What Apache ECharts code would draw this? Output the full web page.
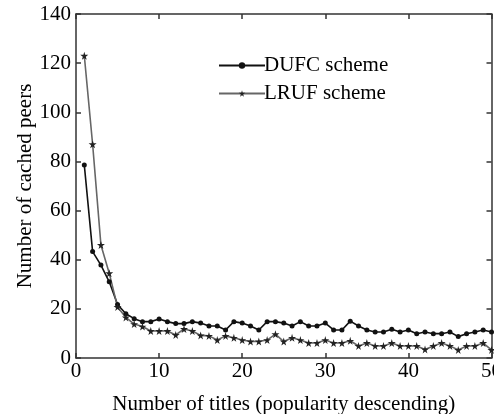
<!DOCTYPE html>
<html>
<head>
<meta charset="utf-8">
<script src="https://cdn.jsdelivr.net/npm/echarts@6/dist/echarts.min.js"></script>
<style>html,body{margin:0;padding:0;background:#fff}#c{width:494px;height:414px}</style>
</head>
<body>
<div id="c"></div>
<script>
var titles = [1,2,3,4,5,6,7,8,9,10,11,12,13,14,15,16,17,18,19,20,21,22,23,24,25,26,27,28,29,30,31,32,33,34,35,36,37,38,39,40,41,42,43,44,45,46,47,48,49,50];
var dufc = [78.5,43.3,37.8,31,21.8,18,16,14.8,14.8,15.9,14.8,14,14,14.8,14.2,13,13,11.4,14.8,14.2,13,11.4,14.8,14.8,14.2,13,14.8,13,13,14.2,11.4,11.4,15,13,11.4,10.6,10.6,11.7,10.6,11.4,9.9,10.6,9.9,9.9,10.6,8.7,9.9,10.6,11.4,10.6];
var lruf = [123,87,46,34.5,20.8,16.5,13.8,12.8,11,11,11,9.4,11.8,11,9.2,9,7.3,9,8.2,7.3,6.7,6.7,7.3,9.7,6.7,8.2,7.3,6.1,6.1,7.3,6.1,6.1,7,4.9,6.1,4.9,4.9,6.1,4.9,4.9,4.9,3.5,4.9,6.1,4.9,3.3,4.9,4.9,6.1,3.3];
var xTicks = [0,10,20,30,40,50];
var yTicks = [0,20,40,60,80,100,120,140];
var seriesNames = ['DUFC scheme','LRUF scheme'];

var font = '"Liberation Serif","Times New Roman",serif';
var fs = 21;
var star = 'path://M50,0 L61,35 L98,35 L68,57 L79,91 L50,70 L21,91 L32,57 L2,35 L39,35 Z';
function pairs(v){ return v.map(function(y,i){ return [titles[i], y]; }); }
var axisLineStyle = {color:'#333', width:1.5};
var chart = echarts.init(document.getElementById('c'), null, {renderer:'canvas'});
chart.setOption({
  animation:false,
  backgroundColor:'#fff',
  grid:{left:76, right:2.5, top:14, bottom:56, containLabel:false, outerBoundsMode:'none'},
  legend:{
    orient:'vertical', left:213, top:50, itemWidth:46, itemHeight:8, itemGap:7,
    textStyle:{fontFamily:font, fontSize:fs, color:'#000', padding:[0,0,0,-6]},
    data:[{name:seriesNames[0]},{name:seriesNames[1]}]
  },
  xAxis:[{
    type:'value', min:xTicks[0], max:xTicks[xTicks.length-1], interval:10, position:'bottom',
    name:'Number of titles (popularity descending)', nameLocation:'middle', nameGap:36, nameMoveOverlap:false,
    nameTextStyle:{fontFamily:font, fontSize:fs, color:'#000'},
    axisLine:{show:true, onZero:false, lineStyle:axisLineStyle},
    axisTick:{show:true, inside:true, length:5, lineStyle:axisLineStyle},
    axisLabel:{fontFamily:font, fontSize:fs, color:'#000', margin:3},
    splitLine:{show:false}
  },{
    type:'value', min:xTicks[0], max:xTicks[xTicks.length-1], interval:10, position:'top',
    axisLine:{show:true, onZero:false, lineStyle:axisLineStyle},
    axisTick:{show:true, inside:true, length:5, lineStyle:axisLineStyle},
    axisLabel:{show:false}, splitLine:{show:false}
  }],
  yAxis:[{
    type:'value', min:yTicks[0], max:yTicks[yTicks.length-1], interval:20, position:'left',
    name:'Number of cached peers', nameLocation:'middle', nameGap:40, nameMoveOverlap:false,
    nameTextStyle:{fontFamily:font, fontSize:fs, color:'#000'},
    axisLine:{show:true, onZero:false, lineStyle:axisLineStyle},
    axisTick:{show:true, inside:true, length:5, lineStyle:axisLineStyle},
    axisLabel:{fontFamily:font, fontSize:fs, color:'#000', margin:5},
    splitLine:{show:false}
  },{
    type:'value', min:yTicks[0], max:yTicks[yTicks.length-1], interval:20, position:'right',
    axisLine:{show:true, onZero:false, lineStyle:axisLineStyle},
    axisTick:{show:true, inside:true, length:5, lineStyle:axisLineStyle},
    axisLabel:{show:false}, splitLine:{show:false}
  }],
  series:[{
    name:seriesNames[0], type:'line', xAxisIndex:0, yAxisIndex:0,
    data:pairs(dufc), symbol:'circle', symbolSize:5, showAllSymbol:true,
    lineStyle:{color:'#111', width:1.6},
    itemStyle:{color:'#111'}
  },{
    name:seriesNames[1], type:'line', xAxisIndex:0, yAxisIndex:0,
    data:pairs(lruf), symbol:star, symbolSize:8, showAllSymbol:true,
    lineStyle:{color:'#666', width:1.6},
    itemStyle:{color:'#222'}
  }]
});
</script>
</body>
</html>
